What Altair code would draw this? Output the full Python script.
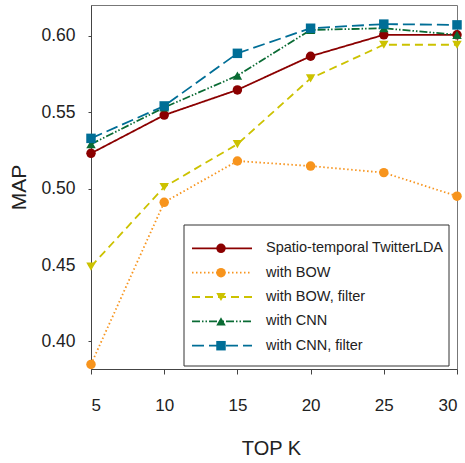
import altair as alt
import pandas as pd

# ---- data ----
topk = [5, 10, 15, 20, 25, 30]
series_names = [
    "Spatio-temporal TwitterLDA",
    "with BOW",
    "with BOW, filter",
    "with CNN",
    "with CNN, filter",
]
st_lda = [0.523, 0.548, 0.5645, 0.5865, 0.6005, 0.6005]
with_bow = [0.385, 0.491, 0.518, 0.5147, 0.5104, 0.495]
with_bow_filter = [0.449, 0.501, 0.529, 0.572, 0.594, 0.594]
with_cnn = [0.529, 0.553, 0.5738, 0.6037, 0.6048, 0.6005]
with_cnn_filter = [0.5328, 0.554, 0.5884, 0.6048, 0.6075, 0.607]
y_ticks = [0.40, 0.45, 0.50, 0.55, 0.60]

# ---- styles ----
colors = ["#8b0000", "#f7941d", "#ccc200", "#0a6b34", "#006e96"]
dashes = [[1, 0], [1.5, 2.5], [8, 5], [8, 2, 1.5, 2, 1.5, 2], [12, 5]]
shapes = ["circle", "circle", "triangle-down", "triangle-up", "square"]
sizes = [90, 90, 100, 100, 78]
FONT = "Liberation Sans, Arial"

all_vals = [st_lda, with_bow, with_bow_filter, with_cnn, with_cnn_filter]
rows = []
for name, vals in zip(series_names, all_vals):
    for k, v in zip(topk, vals):
        rows.append({"series": name, "topk": k, "map": v})
df = pd.DataFrame(rows)

color_enc = alt.Color("series:N", scale=alt.Scale(domain=series_names, range=colors), legend=None)
dash_enc = alt.StrokeDash("series:N", scale=alt.Scale(domain=series_names, range=dashes), legend=None)
shape_enc = alt.Shape("series:N", scale=alt.Scale(domain=series_names, range=shapes), legend=None)
size_enc = alt.Size("series:N", scale=alt.Scale(domain=series_names, range=sizes), legend=None)

W, H = 366, 364

x_enc = alt.X(
    "topk:Q",
    scale=alt.Scale(domain=[5, 30], nice=False, zero=False),
    axis=alt.Axis(
        values=topk, format="d", title="TOP K", grid=False,
        tickSize=5, labelPadding=23, labelFontSize=17, labelFont=FONT,
        titleFont=FONT, titleFontSize=20, titleFontWeight="normal",
        titleX=180, titleY=79, titleBaseline="middle",
    ),
)
y_enc = alt.Y(
    "map:Q",
    scale=alt.Scale(domain=[0.382, 0.62], nice=False, zero=False),
    axis=alt.Axis(
        values=y_ticks, format=".2f", title="MAP", grid=False,
        tickSize=3, labelPadding=13, labelFontSize=17.5, labelFont=FONT,
        titleFont=FONT, titleFontSize=21, titleFontWeight="normal",
        titleAngle=270, titleX=-72, titleY=182, titleBaseline="middle", titleAlign="center",
    ),
)

base = alt.Chart(df)
lines = base.mark_line(strokeWidth=1.8).encode(
    x=x_enc, y=y_enc, color=color_enc, strokeDash=dash_enc, detail="series:N",
    order=alt.Order("topk:Q"),
)
points = base.mark_point(filled=True, opacity=1).encode(
    x="topk:Q", y="map:Q", color=color_enc, shape=shape_enc, size=size_enc,
)

# ---- manual legend (layout constants in pixels of the plot area) ----
LEG_BOX = (93, 220, 358, 361)
LEG_Y0, LEG_DY = 243.3, 24.35
LEG_LINE_X0, LEG_LINE_X1, LEG_MARK_X, LEG_TEXT_X = 101, 161, 130, 175

legend_layers = [
    alt.Chart(pd.DataFrame({"a": [0]})).mark_rect(
        fill="white", stroke="#333", strokeWidth=1
    ).encode(
        x=alt.value(LEG_BOX[0]), x2=alt.value(LEG_BOX[2]),
        y=alt.value(LEG_BOX[1]), y2=alt.value(LEG_BOX[3]),
    )
]
for i, name in enumerate(series_names):
    ly = LEG_Y0 + i * LEG_DY
    ldf = pd.DataFrame({"series": [name]})
    c = alt.Chart(ldf)
    legend_layers.append(
        c.mark_rule(strokeWidth=1.8).encode(
            x=alt.value(LEG_LINE_X0), x2=alt.value(LEG_LINE_X1), y=alt.value(ly),
            color=color_enc, strokeDash=dash_enc,
        )
    )
    legend_layers.append(
        c.mark_point(filled=True, opacity=1).encode(
            x=alt.value(LEG_MARK_X), y=alt.value(ly), color=color_enc, shape=shape_enc,
            size=size_enc,
        )
    )
    legend_layers.append(
        c.mark_text(align="left", baseline="middle", font=FONT, fontSize=14.5, color="#222").encode(
            x=alt.value(LEG_TEXT_X), y=alt.value(ly), text="series:N",
        )
    )

chart = alt.layer(lines, points, *legend_layers).properties(
    width=W, height=H,
    autosize=alt.AutoSizeParams(type="none"),
    padding={"left": 91, "top": 5, "right": 8, "bottom": 94},
    background="white",
).configure_view(
    stroke="#777", strokeWidth=1
).configure_axis(
    domainColor="#444", tickColor="#444", labelColor="#222", titleColor="#222",
    domainWidth=1,
)

chart.save("out.html", embed_options={"renderer": "svg", "actions": False})
